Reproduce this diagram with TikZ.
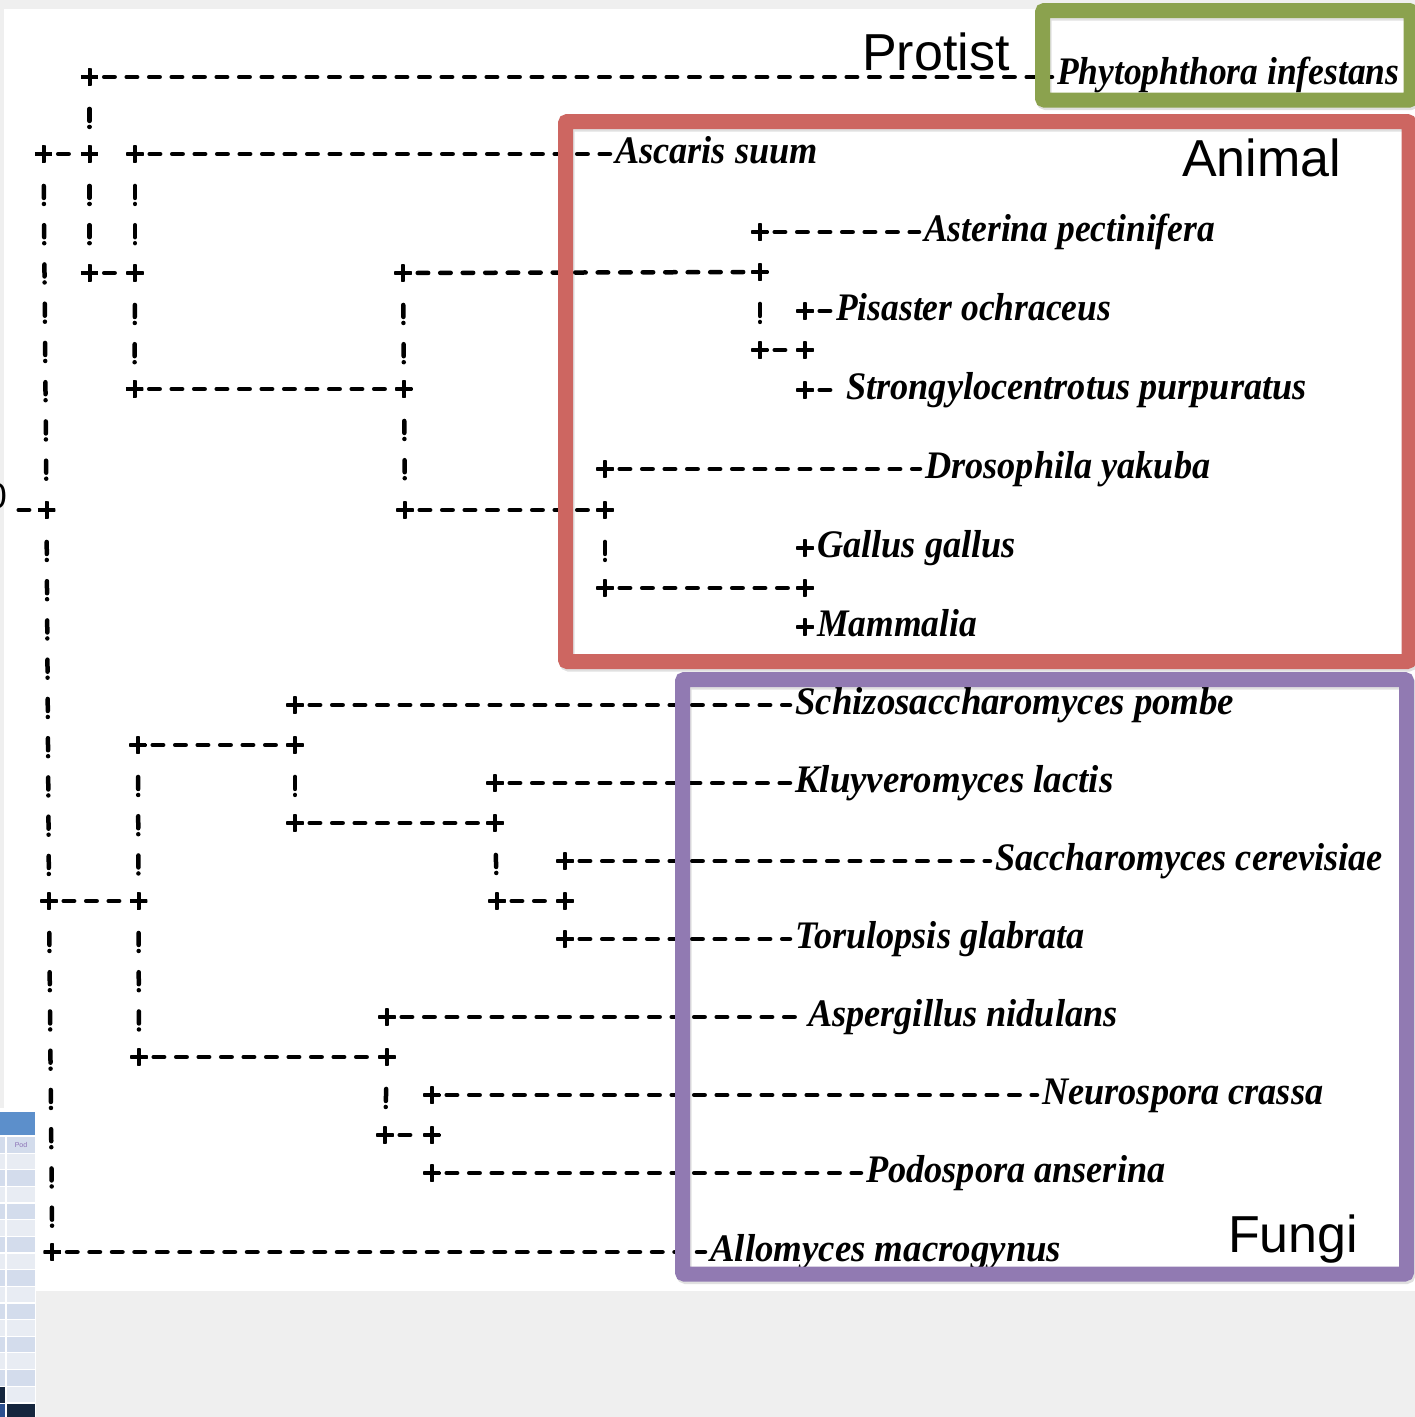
\documentclass[tikz,border=0pt]{standalone}
\usepackage{fontspec}
\setmainfont{Liberation Serif}
\newfontfamily\spfont[FakeStretch=0.93]{Liberation Serif}
\newfontfamily\spfontn[FakeStretch=0.91]{Liberation Serif}
\newfontfamily\spfontw[FakeStretch=0.945]{Liberation Serif}
\newfontfamily\labfont{Liberation Sans}
\definecolor{bggrey}{HTML}{EFEFEF}
\definecolor{grnc}{HTML}{8BA24E}
\definecolor{redc}{HTML}{CD6661}
\definecolor{purc}{HTML}{917AB2}
\definecolor{thead}{HTML}{5C8FCB}
\definecolor{tlight}{HTML}{E8ECF3}
\definecolor{tdark}{HTML}{D3DCEC}
\definecolor{tnavy}{HTML}{15263E}
\definecolor{tblue}{HTML}{2B4F8F}
\definecolor{podc}{HTML}{8A6FB5}
\tikzset{
  plusnode/.style={circle, inner sep=0pt, minimum size=18pt,
    path picture={\draw[line width=4pt]
      (path picture bounding box.west) -- (path picture bounding box.east)
      (path picture bounding box.north) -- (path picture bounding box.south);}},
  hdash/.style={line width=4.5pt, line cap=round, dash pattern=on 10.5pt off 12pt,
    shorten <=5.5pt, shorten >=5pt},
  vbang/.style={line width=4.5pt, line cap=round,
    dash pattern=on 12pt off 6pt on 0.01pt off 21.24pt,
    shorten <=22.75pt, shorten >=10pt},
  species/.style={anchor=base west, inner sep=0pt,
    font=\spfont\bfseries\itshape\fontsize{39}{39}\selectfont},
  narrow/.style={font=\spfontn\bfseries\itshape\fontsize{39}{39}\selectfont},
  wide/.style={font=\spfontw\bfseries\itshape\fontsize{39}{39}\selectfont},
  grouplab/.style={anchor=base west, inner sep=0pt,
    font=\labfont\fontsize{52}{52}\selectfont},
  frame/.style={line width=15pt, rounded corners=2pt},
  shadowframe/.style={line width=15pt, rounded corners=2pt, draw=black, opacity=0.12},
}
\begin{document}
\begin{tikzpicture}[x=1pt,y=-1pt]
\useasboundingbox (0,0) rectangle (1415,1417);
% background
\fill[bggrey] (0,0) rectangle (1415,1417);
\fill[white] (4,9) rectangle (1415,1291);
% table fragment at bottom left
\fill[white] (0,1108) rectangle (36,1417);
\fill[thead] (0,1112) rectangle (35,1135);
\foreach \i in {0,...,15}{
  \pgfmathsetmacro\ya{1137+16.65*\i}
  \pgfmathsetmacro\yb{\ya+15.5}
  \ifodd\i
    \fill[tlight] (0,\ya) rectangle (5,\yb);
    \fill[tlight] (6.5,\ya) rectangle (35,\yb);
  \else
    \fill[tdark] (0,\ya) rectangle (5,\yb);
    \fill[tdark] (6.5,\ya) rectangle (35,\yb);
  \fi
}
\fill[tnavy] (0,1387) rectangle (5,1402.5);
\fill[tblue] (0,1404) rectangle (5,1417);
\fill[tnavy] (6.5,1404) rectangle (35,1417);
\node[font=\labfont\fontsize{7}{7}\selectfont, text=podc, inner sep=0pt] (pod) at (21,1145) {Pod};
% partial glyph at the left edge
\node[anchor=base east, inner sep=0pt, font=\labfont\fontsize{36}{36}\selectfont] (zero) at (7,508) {0};

% ---- junction nodes ----
\node[plusnode] (A0) at (89.5,77) {};
\node[plusnode] (A2L) at (43.5,154) {};
\node[plusnode] (A2) at (89.5,154) {};
\node[plusnode] (B2) at (135,154) {};
\node[plusnode] (A5) at (89.5,273) {};
\node[plusnode] (B5) at (135,273) {};
\node[plusnode] (C5) at (403,273) {};
\node[plusnode] (D5) at (760,272) {};
\node[plusnode] (D4) at (760,232) {};
\node[plusnode] (D7) at (760,350) {};
\node[plusnode] (E7) at (805,350) {};
\node[plusnode] (E6) at (805,311) {};
\node[plusnode] (E8) at (805,390) {};
\node[plusnode] (B8) at (134.5,389) {};
\node[plusnode] (C8) at (404,389) {};
\node[plusnode] (R11) at (46.5,510) {};
\node[plusnode] (C11) at (405,510) {};
\node[plusnode] (F11) at (605,510) {};
\node[plusnode] (F10) at (605,469) {};
\node[plusnode] (F13) at (605,588) {};
\node[plusnode] (G13) at (805,588) {};
\node[plusnode] (G12) at (805,548) {};
\node[plusnode] (G14) at (805,627) {};
\node[plusnode] (H16) at (295,705) {};
\node[plusnode] (H17) at (295,745) {};
\node[plusnode] (I17) at (138,745) {};
\node[plusnode] (H19) at (295,823) {};
\node[plusnode] (J19) at (495,823) {};
\node[plusnode] (J18) at (495,783) {};
\node[plusnode] (R21) at (49,901) {};
\node[plusnode] (I21) at (138.5,901) {};
\node[plusnode] (J21) at (497,901) {};
\node[plusnode] (K21) at (565,901) {};
\node[plusnode] (K20) at (565,861) {};
\node[plusnode] (K22) at (565,939) {};
\node[plusnode] (I25) at (139,1057) {};
\node[plusnode] (L25) at (387,1057) {};
\node[plusnode] (L24) at (387,1017) {};
\node[plusnode] (L27) at (385,1135) {};
\node[plusnode] (M27) at (432,1135) {};
\node[plusnode] (M26) at (432,1095) {};
\node[plusnode] (M28) at (432,1173) {};
\node[plusnode] (R30) at (52.3,1252) {};
\coordinate (rootstub) at (18.7,510);

% ---- species labels ----
\node[species, narrow] (tPhy) at (1057,84) {Phytophthora infestans};
\node[species] (tAsc) at (615,163) {Ascaris suum};
\node[species, narrow] (tAst) at (924,241) {Asterina pectinifera};
\node[species, narrow] (tPis) at (836,320) {Pisaster ochraceus};
\node[species] (tStr) at (846,399) {Strongylocentrotus purpuratus};
\node[species] (tDro) at (925,478) {Drosophila yakuba};
\node[species] (tGal) at (817,557) {Gallus gallus};
\node[species, narrow] (tMam) at (817,636) {Mammalia};
\node[species, wide] (tSch) at (795,714) {Schizosaccharomyces pombe};
\node[species, wide] (tKlu) at (795,792) {Kluyveromyces lactis};
\node[species] (tSac) at (995,870) {Saccharomyces cerevisiae};
\node[species] (tTor) at (795,948) {Torulopsis glabrata};
\node[species] (tAsp) at (808,1026) {Aspergillus nidulans};
\node[species] (tNeu) at (1042,1104) {Neurospora crassa};
\node[species] (tPod) at (866,1182) {Podospora anserina};
\node[species, wide] (tAll) at (710,1261) {Allomyces macrogynus};

% ---- leaf connectors ----
\foreach \p/\t in {A0/tPhy, B2/tAsc, D4/tAst, E6/tPis, E8/tStr, F10/tDro,
  H16/tSch, J18/tKlu, K20/tSac, K22/tTor, L24/tAsp, M26/tNeu, M28/tPod, R30/tAll}
  \draw[hdash] (\p) -- (\p -| \t.west);
% ---- internal horizontal connectors ----
\foreach \a/\b in {A2L/A2, A5/B5, C5/D5, D7/E7, B8/C8, C11/F11, F13/G13,
  I17/H17, H19/J19, R21/I21, J21/K21, I25/L25, L27/M27}
  \draw[hdash] (\a) -- (\b);
\draw[hdash, shorten <=0pt] (rootstub) -- (R11);
% ---- vertical connectors ----
\foreach \a/\b in {A0/A2, A2/A5, B2/B5, B5/B8, C5/C8, C8/C11, D5/D7, F11/F13,
  A2L/R11, R11/R21, R21/R30, I17/I21, I21/I25, H17/H19, J19/J21, L25/L27}
  \draw[vbang] (\a) -- (\b);

% ---- group labels ----
\node[grouplab] (protist) at (862,70) {Protist};
\node[grouplab] (animal) at (1182,176) {Animal};
\node[grouplab] (fungi) at (1228,1252) {Fungi};

% ---- frames ----
\draw[shadowframe, shift={(1.5,2.5)}] (1042.5,10.5) rectangle (1411,100);
\draw[shadowframe, shift={(1.5,2.5)}] (565.5,121.5) rectangle (1409,661.5);
\draw[shadowframe, shift={(1.5,2.5)}] (682.5,679.5) rectangle (1406.5,1274);
\draw[frame, draw=grnc] (1042.5,10.5) rectangle (1411,100);
\draw[frame, draw=redc] (565.5,121.5) rectangle (1409,661.5);
\draw[frame, draw=purc] (682.5,679.5) rectangle (1406.5,1274);
\end{tikzpicture}
\end{document}
